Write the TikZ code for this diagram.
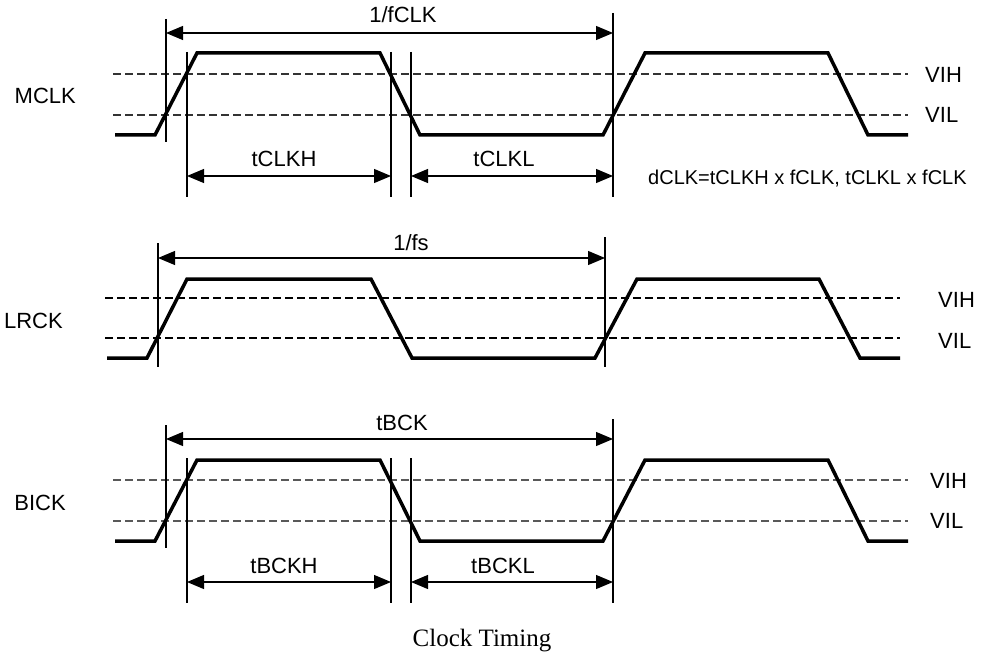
\documentclass[tikz,border=0pt]{standalone}
\usepackage{fontspec}
\setmainfont{Liberation Serif}
\setsansfont{Liberation Sans}
\usetikzlibrary{arrows.meta}
\tikzset{
  signal/.style={line width=3.5pt, line join=miter},
  level/.style={line width=1.1pt, dash pattern=on 8pt off 4pt, black!80},
  guide/.style={line width=1.2pt},
  dim/.style={line width=1.2pt, {Triangle[length=17pt,width=14pt]}-{Triangle[length=17pt,width=14pt]}},
  lbl/.style={font=\sffamily\fontsize{22}{26}\selectfont, inner sep=0pt, anchor=base},
}
\begin{document}
\begin{tikzpicture}[x=1pt, y=-1pt]
  \useasboundingbox (0,0) rectangle (984,655);
  % MCLK
  \draw [level] (113,74) -- (908,74);
  \draw [level] (113,115) -- (908,115);
  \draw [signal] (115,135) -- (155,135) -- (197,53) -- (380,53) -- (420,135) -- (603,135)
    -- (645,53) -- (828,53) -- (868,135) -- (908,135);
  \draw [guide] (166,19) -- (166,142);
  \draw [guide] (187,52) -- (187,197);
  \draw [guide] (391,52) -- (391,197);
  \draw [guide] (411,52) -- (411,197);
  \draw [guide] (613,13) -- (613,197);
  \draw [dim] (166,33) -- (613,33);
  \draw [dim] (187,176) -- (391,176);
  \draw [dim] (411,176) -- (613,176);
  \node [lbl, anchor=base east] (mclk) at (76,104) {MCLK};
  \node [lbl] (mper) at (403,23) {1/fCLK};
  \node [lbl] (mhigh) at (284,167) {tCLKH};
  \node [lbl] (mlow) at (504,167) {tCLKL};
  \node [lbl, anchor=base west] (mvih) at (925,83) {VIH};
  \node [lbl, anchor=base west] (mvil) at (925,123) {VIL};
  \node [lbl, anchor=base west, font=\sffamily\fontsize{20}{24}\selectfont] (duty) at (648,185)
    {dCLK=tCLKH x fCLK, tCLKL x fCLK};
  % LRCK
  \draw [level, black] (105,298) -- (900,298);
  \draw [level, black] (105,338) -- (900,338);
  \draw [signal] (107,358) -- (147,358) -- (187,279) -- (371,279) -- (412,358) -- (595,358)
    -- (637,279) -- (819,279) -- (860,358) -- (900,358);
  \draw [guide] (158,243) -- (158,367);
  \draw [guide] (605,237) -- (605,367);
  \draw [dim] (158,258) -- (605,258);
  \node [lbl, anchor=base east] (lrck) at (63,328) {LRCK};
  \node [lbl] (lper) at (411,250) {1/fs};
  \node [lbl, anchor=base west] (lvih) at (938,307) {VIH};
  \node [lbl, anchor=base west] (lvil) at (938,348) {VIL};
  % BICK
  \draw [level, black!65] (113,480) -- (908,480);
  \draw [level, black!65] (113,521) -- (908,521);
  \draw [signal] (115,541) -- (155,541) -- (197,460) -- (380,460) -- (420,541) -- (603,541)
    -- (645,460) -- (828,460) -- (868,541) -- (908,541);
  \draw [guide] (166,425) -- (166,548);
  \draw [guide] (187,458) -- (187,603);
  \draw [guide] (391,458) -- (391,603);
  \draw [guide] (411,458) -- (411,603);
  \draw [guide] (613,419) -- (613,603);
  \draw [dim] (166,439) -- (613,439);
  \draw [dim] (187,582) -- (391,582);
  \draw [dim] (411,582) -- (613,582);
  \node [lbl, anchor=base east] (bick) at (66,510) {BICK};
  \node [lbl] (bper) at (402,430) {tBCK};
  \node [lbl] (bhigh) at (284,573) {tBCKH};
  \node [lbl] (blow) at (503,573) {tBCKL};
  \node [lbl, anchor=base west] (bvih) at (930,488) {VIH};
  \node [lbl, anchor=base west] (bvil) at (930,528) {VIL};
  % caption
  \node [font=\fontsize{25}{30}\selectfont, inner sep=0pt, anchor=base] (caption) at (482,646) {Clock Timing};
\end{tikzpicture}
\end{document}
